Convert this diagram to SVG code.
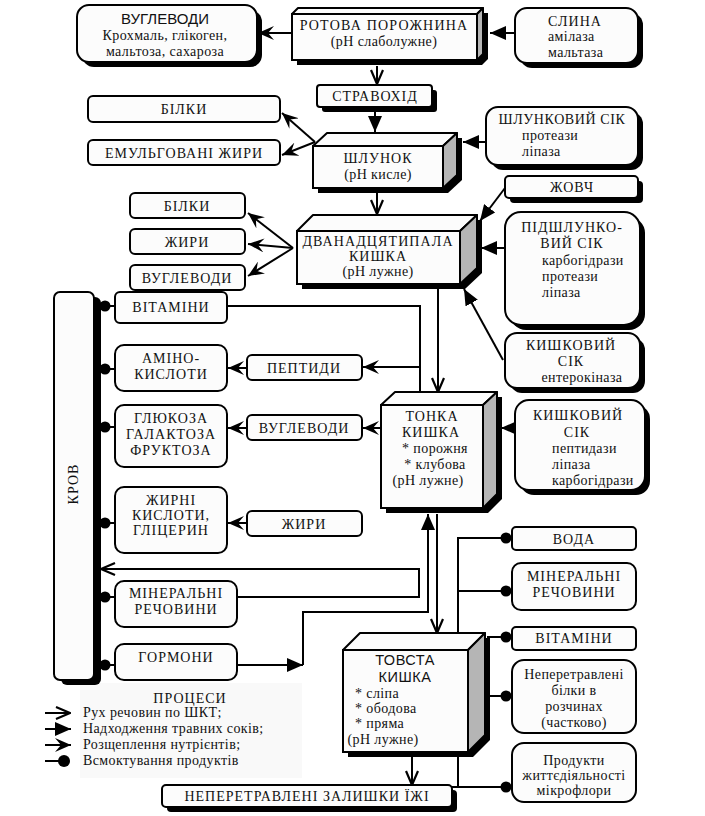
<svg xmlns="http://www.w3.org/2000/svg" width="705" height="816" viewBox="0 0 705 816">
<defs>
<style>
.bx{fill:#fcfcfc;stroke:#000;stroke-width:2}
.sh{fill:#000}
.top{fill:#fcfcfc;stroke:#000;stroke-width:2;stroke-linejoin:round}
.side{fill:#b5b5b5;stroke:#000;stroke-width:2;stroke-linejoin:round}
.t{font-family:"Liberation Serif","DejaVu Serif",serif;font-size:14px;letter-spacing:1px;fill:#111;text-anchor:middle}
.l{letter-spacing:0.4px}
.a{text-anchor:start}
.ss{font-family:"Liberation Sans",Arial,sans-serif;letter-spacing:0}
#connectors line,#connectors polyline{stroke:#000;stroke-width:2;fill:none}
.dot{fill:#000}
</style>
<marker id="open" viewBox="0 0 16 14" refX="15" refY="7" markerWidth="16" markerHeight="14" markerUnits="userSpaceOnUse" orient="auto">
<path d="M1,1 L15,7 L1,13" fill="none" stroke="#000" stroke-width="2.2"/>
</marker>
<marker id="fill" viewBox="0 0 16 14" refX="16" refY="7" markerWidth="16" markerHeight="14" markerUnits="userSpaceOnUse" orient="auto">
<path d="M0,0 L16,7 L0,14 Z" fill="#000"/>
</marker>
<marker id="barb" viewBox="0 0 16 14" refX="16" refY="7" markerWidth="16" markerHeight="14" markerUnits="userSpaceOnUse" orient="auto">
<path d="M0,0 L16,7 L0,14 L6,7 Z" fill="#000"/>
</marker>
</defs>
<rect width="705" height="816" fill="#fff"/>

<!-- legend background -->
<rect x="80" y="683" width="222" height="95" fill="#f9f9f9"/>

<g id="connectors">
<line x1="292" y1="33" x2="258" y2="33" marker-end="url(#barb)"/>
<line x1="515" y1="33" x2="490" y2="33" marker-end="url(#fill)"/>
<line x1="377" y1="66" x2="377" y2="84" marker-end="url(#open)"/>
<line x1="375" y1="111" x2="375" y2="132" marker-end="url(#fill)"/>
<line x1="315" y1="142" x2="282" y2="113" marker-end="url(#barb)"/>
<line x1="315" y1="142" x2="282" y2="155" marker-end="url(#barb)"/>
<line x1="486" y1="142" x2="463" y2="142" marker-end="url(#fill)"/>
<line x1="377" y1="192" x2="377" y2="214" marker-end="url(#open)"/>
<line x1="293" y1="248" x2="248" y2="213" marker-end="url(#barb)"/>
<line x1="293" y1="248" x2="248" y2="244" marker-end="url(#barb)"/>
<line x1="293" y1="248" x2="248" y2="276" marker-end="url(#barb)"/>
<line x1="505" y1="188" x2="480" y2="221" marker-end="url(#fill)"/>
<line x1="505" y1="248" x2="481" y2="248" marker-end="url(#fill)"/>
<line x1="503" y1="360" x2="464" y2="289" marker-end="url(#fill)"/>
<line x1="438" y1="289" x2="438" y2="392" marker-end="url(#open)"/>
<polyline points="227,306 420,306 420,393"/>
<line x1="420" y1="367" x2="363" y2="367" marker-end="url(#barb)"/>
<line x1="381" y1="428" x2="363" y2="428" marker-end="url(#barb)"/>
<line x1="247" y1="368" x2="228" y2="368" marker-end="url(#barb)"/>
<line x1="247" y1="428" x2="228" y2="428" marker-end="url(#barb)"/>
<line x1="247" y1="523" x2="228" y2="523" marker-end="url(#barb)"/>
<line x1="516" y1="428" x2="501" y2="428" marker-end="url(#fill)"/>
<polyline points="303,665 303,612 428,612 428,514" marker-end="url(#fill)"/>
<line x1="237" y1="665" x2="303" y2="665" marker-end="url(#fill)"/>
<line x1="437" y1="514" x2="437" y2="633" marker-end="url(#open)"/>
<polyline points="237,597 419,597 419,569 101,569" marker-end="url(#open)"/>
<polyline points="512,538 458,538 458,633"/>
<line x1="458" y1="591" x2="512" y2="591"/>
<line x1="487" y1="637" x2="512" y2="637"/>
<line x1="487" y1="696" x2="512" y2="696"/>
<line x1="458" y1="756" x2="458" y2="787"/>
<line x1="452" y1="787" x2="512" y2="787"/>
<line x1="412" y1="757" x2="412" y2="785" marker-end="url(#open)"/>
<line x1="101" y1="306" x2="115" y2="306"/>
<line x1="101" y1="369" x2="115" y2="369"/>
<line x1="101" y1="427" x2="115" y2="427"/>
<line x1="101" y1="523" x2="115" y2="523"/>
<line x1="101" y1="597" x2="115" y2="597"/>
<line x1="101" y1="665" x2="115" y2="665"/>
<circle class="dot" cx="105" cy="306" r="5.5"/>
<circle class="dot" cx="105" cy="369" r="5.5"/>
<circle class="dot" cx="105" cy="427" r="5.5"/>
<circle class="dot" cx="105" cy="523" r="5.5"/>
<circle class="dot" cx="105" cy="597" r="5.5"/>
<circle class="dot" cx="105" cy="665" r="5.5"/>
<circle class="dot" cx="506" cy="538" r="5.5"/>
<circle class="dot" cx="506" cy="591" r="5.5"/>
<circle class="dot" cx="506" cy="637" r="5.5"/>
<circle class="dot" cx="506" cy="696" r="5.5"/>
<circle class="dot" cx="506" cy="787" r="5.5"/>
</g>

<g id="vuhlevody-top">
<rect class="sh" x="82" y="10" width="180" height="57" rx="12"/>
<rect class="bx" x="77" y="5" width="180" height="57" rx="12"/>
<text class="t ss" x="165" y="24" style="font-size:15px">ВУГЛЕВОДИ</text>
<text class="t l" x="165" y="40">Крохмаль, глікоген,</text>
<text class="t l" x="165" y="56">мальтоза, сахароза</text>
</g>

<g id="rotova">
<polygon class="sh" points="297,19 303,13 488,13 488,59 482,65 297,65"/>
<polygon class="top" points="292,14 298,8 483,8 477,14"/>
<polygon class="side" points="477,14 483,8 483,54 477,60"/>
<rect class="bx" x="292" y="14" width="185" height="46"/>
<text class="t" x="384" y="30" style="letter-spacing:1.2px">РОТОВА ПОРОЖНИНА</text>
<text class="t l" x="384" y="46">(pH слаболужне)</text>
</g>

<g id="slyna">
<rect class="sh" x="520" y="13" width="123" height="55" rx="12"/>
<rect class="bx" x="515" y="8" width="123" height="55" rx="12"/>
<text class="t" x="575" y="26">СЛИНА</text>
<text class="t l a" x="548" y="41">амілаза</text>
<text class="t l a" x="548" y="57">мальтаза</text>
</g>

<g id="stravokhid">
<rect class="sh" x="322" y="90" width="115" height="22" rx="3"/>
<rect class="bx" x="317" y="85" width="115" height="22" rx="3"/>
<text class="t" x="375" y="101">СТРАВОХІД</text>
</g>

<g id="bilky-1">
<rect class="bx" x="88" y="96" width="192" height="26" rx="5"/>
<text class="t" x="184" y="114">БІЛКИ</text>
</g>
<g id="emulh-zhyry">
<rect class="bx" x="88" y="140" width="192" height="25" rx="5"/>
<text class="t" x="184" y="158">ЕМУЛЬГОВАНІ ЖИРИ</text>
</g>

<g id="shlunok">
<polygon class="sh" points="318,151 331,138 462,138 462,180 448,193 318,193"/>
<polygon class="top" points="313,146 327,133 457,133 443,146"/>
<polygon class="side" points="443,146 457,133 457,175 443,188"/>
<rect class="bx" x="313" y="146" width="130" height="42"/>
<text class="t" x="378" y="163">ШЛУНОК</text>
<text class="t l" x="378" y="179">(pH кисле)</text>
</g>

<g id="shlunkovyi-sik">
<rect class="sh" x="491" y="112" width="152" height="58" rx="12"/>
<rect class="bx" x="486" y="107" width="152" height="58" rx="12"/>
<text class="t" x="562" y="124" style="letter-spacing:0.6px">ШЛУНКОВИЙ СІК</text>
<text class="t l a" x="522" y="140">протеази</text>
<text class="t l a" x="522" y="156">ліпаза</text>
</g>

<g id="zhovch">
<rect class="sh" x="510" y="181" width="133" height="22" rx="4"/>
<rect class="bx" x="505" y="176" width="133" height="22" rx="4"/>
<text class="t" x="572" y="192">ЖОВЧ</text>
</g>

<g id="bilky-2">
<rect class="bx" x="130" y="193" width="115" height="25" rx="5"/>
<text class="t" x="187" y="211">БІЛКИ</text>
</g>
<g id="zhyry-2">
<rect class="bx" x="130" y="229" width="115" height="25" rx="5"/>
<text class="t" x="187" y="247">ЖИРИ</text>
</g>
<g id="vuhlevody-2">
<rect class="bx" x="130" y="265" width="115" height="25" rx="5"/>
<text class="t" x="187" y="283">ВУГЛЕВОДИ</text>
</g>

<g id="dvanadtsiatypala">
<polygon class="sh" points="302,236 318,220 482,220 482,273 465,289 302,289"/>
<polygon class="top" points="297,231 313,215 477,215 460,231"/>
<polygon class="side" points="460,231 477,215 477,268 460,284"/>
<rect class="bx" x="297" y="231" width="163" height="53"/>
<text class="t" x="378" y="246" style="letter-spacing:1.1px">ДВАНАДЦЯТИПАЛА</text>
<text class="t" x="378" y="261">КИШКА</text>
<text class="t l" x="378" y="276">(pH лужне)</text>
</g>

<g id="pidshlunkovyi-sik">
<rect class="sh" x="510" y="217" width="135" height="113" rx="16"/>
<rect class="bx" x="505" y="212" width="135" height="113" rx="16"/>
<text class="t" x="572" y="232">ПІДШЛУНКО-</text>
<text class="t" x="572" y="248">ВИЙ СІК</text>
<text class="t l a" x="542" y="265">карбогідрази</text>
<text class="t l a" x="542" y="281">протеази</text>
<text class="t l a" x="542" y="297">ліпаза</text>
</g>

<g id="kyshkovyi-sik-1">
<rect class="sh" x="510" y="338" width="135" height="55" rx="12"/>
<rect class="bx" x="505" y="333" width="135" height="55" rx="12"/>
<text class="t" x="571" y="350">КИШКОВИЙ</text>
<text class="t" x="571" y="366">СІК</text>
<text class="t l" x="582" y="382">ентерокіназа</text>
</g>

<g id="krov">
<rect class="sh" x="61" y="297" width="40" height="388" rx="6"/>
<rect class="bx" x="54" y="292" width="40" height="388" rx="6"/>
<text class="t" transform="translate(78,484) rotate(-90)">КРОВ</text>
</g>

<g id="vitaminy-1">
<rect class="bx" x="115" y="292" width="112" height="31" rx="5"/>
<text class="t" x="171" y="312">ВІТАМІНИ</text>
</g>
<g id="aminokysloty">
<rect class="bx" x="115" y="345" width="112" height="46" rx="9"/>
<text class="t" x="171" y="363">АМІНО-</text>
<text class="t" x="171" y="379">КИСЛОТИ</text>
</g>
<g id="hliukoza">
<rect class="bx" x="115" y="405" width="112" height="62" rx="9"/>
<text class="t" x="171" y="423">ГЛЮКОЗА</text>
<text class="t" x="171" y="439">ГАЛАКТОЗА</text>
<text class="t" x="171" y="455">ФРУКТОЗА</text>
</g>
<g id="zhyrni-kysloty">
<rect class="bx" x="115" y="487" width="112" height="66" rx="9"/>
<text class="t" x="171" y="505">ЖИРНІ</text>
<text class="t" x="171" y="520">КИСЛОТИ,</text>
<text class="t" x="171" y="535">ГЛІЦЕРИН</text>
</g>
<g id="mineralni-1">
<rect class="bx" x="115" y="581" width="122" height="46" rx="9"/>
<text class="t" x="176" y="598">МІНЕРАЛЬНІ</text>
<text class="t" x="176" y="614">РЕЧОВИНИ</text>
</g>
<g id="hormony">
<rect class="bx" x="115" y="644" width="122" height="36" rx="9"/>
<text class="t" x="176" y="662">ГОРМОНИ</text>
</g>

<g id="peptydy">
<rect class="bx" x="247" y="355" width="115" height="25" rx="5"/>
<text class="t" x="304" y="373">ПЕПТИДИ</text>
</g>
<g id="vuhlevody-3">
<rect class="bx" x="247" y="415" width="115" height="25" rx="5"/>
<text class="t" x="304" y="433">ВУГЛЕВОДИ</text>
</g>
<g id="zhyry-3">
<rect class="bx" x="247" y="511" width="115" height="25" rx="5"/>
<text class="t" x="304" y="529">ЖИРИ</text>
</g>

<g id="tonka-kyshka">
<polygon class="sh" points="386,410 400,397 502,397 502,499 488,513 386,513"/>
<polygon class="top" points="381,405 395,392 497,392 483,405"/>
<polygon class="side" points="483,405 497,392 497,494 483,508"/>
<rect class="bx" x="381" y="405" width="102" height="103"/>
<text class="t" x="432" y="421">ТОНКА</text>
<text class="t" x="431" y="437">КИШКА</text>
<text class="t l" x="435" y="453">*  порожня</text>
<text class="t l" x="435" y="469">*  клубова</text>
<text class="t l" x="428" y="485">(pH лужне)</text>
</g>

<g id="kyshkovyi-sik-2">
<rect class="sh" x="520" y="405" width="130" height="90" rx="14"/>
<rect class="bx" x="515" y="400" width="130" height="90" rx="14"/>
<text class="t" x="578" y="420">КИШКОВИЙ</text>
<text class="t" x="577" y="437">СІК</text>
<text class="t l a" x="552" y="453">пептидази</text>
<text class="t l a" x="552" y="469">ліпаза</text>
<text class="t l a" x="552" y="485">карбогідрази</text>
</g>

<g id="voda">
<rect class="bx" x="512" y="527" width="124" height="23" rx="4"/>
<text class="t" x="574" y="544">ВОДА</text>
</g>
<g id="mineralni-2">
<rect class="bx" x="512" y="563" width="124" height="47" rx="9"/>
<text class="t" x="574" y="581">МІНЕРАЛЬНІ</text>
<text class="t" x="574" y="597">РЕЧОВИНИ</text>
</g>
<g id="vitaminy-2">
<rect class="bx" x="512" y="627" width="124" height="23" rx="4"/>
<text class="t" x="574" y="643">ВІТАМІНИ</text>
</g>
<g id="neperetravleni-bilky">
<rect class="bx" x="512" y="660" width="124" height="73" rx="12"/>
<text class="t l" x="574" y="679">Неперетравлені</text>
<text class="t l" x="574" y="695">білки в</text>
<text class="t l" x="574" y="711">розчинах</text>
<text class="t l" x="574" y="727">(частково)</text>
</g>
<g id="produkty">
<rect class="bx" x="512" y="743" width="124" height="59" rx="12"/>
<text class="t l" x="574" y="765">Продукти</text>
<text class="t l" x="574" y="780">життєдіяльності</text>
<text class="t l" x="574" y="795">мікрофлори</text>
</g>

<g id="tovsta-kyshka">
<polygon class="sh" points="348,655 365,638 490,638 490,740 473,757 348,757"/>
<polygon class="top" points="343,650 360,633 485,633 468,650"/>
<polygon class="side" points="468,650 485,633 485,735 468,752"/>
<rect class="bx" x="343" y="650" width="125" height="102"/>
<text class="t ss" x="405" y="665" style="font-size:14.5px;letter-spacing:0.5px">ТОВСТА</text>
<text class="t ss" x="405" y="682" style="font-size:14.5px;letter-spacing:0.5px">КИШКА</text>
<text class="t l a" x="355" y="698">*  сліпа</text>
<text class="t l a" x="355" y="713">*  ободова</text>
<text class="t l a" x="355" y="728">*  пряма</text>
<text class="t l" x="383" y="744">(pH лужне)</text>
</g>

<g id="neperetravleni-zalyshky">
<rect class="sh" x="167" y="790" width="290" height="22" rx="4"/>
<rect class="bx" x="162" y="785" width="290" height="22" rx="4"/>
<text class="t" x="307" y="801">НЕПЕРЕТРАВЛЕНІ ЗАЛИШКИ ЇЖІ</text>
</g>

<g id="legend">
<text class="t" x="190" y="703">ПРОЦЕСИ</text>
<line x1="45" y1="713" x2="70" y2="713" stroke="#000" stroke-width="2" marker-end="url(#open)"/>
<line x1="45" y1="729" x2="71" y2="729" stroke="#000" stroke-width="2" marker-end="url(#fill)"/>
<line x1="45" y1="745" x2="71" y2="745" stroke="#000" stroke-width="2" marker-end="url(#barb)"/>
<line x1="45" y1="761" x2="62" y2="761" stroke="#000" stroke-width="2"/>
<circle class="dot" cx="64" cy="761" r="6"/>
<text class="t l a" x="83" y="717">Рух речовин по ШКТ;</text>
<text class="t l a" x="83" y="733">Надходження травних соків;</text>
<text class="t l a" x="83" y="749">Розщеплення нутрієнтів;</text>
<text class="t l a" x="83" y="765">Всмоктування продуктів</text>
</g>
</svg>
